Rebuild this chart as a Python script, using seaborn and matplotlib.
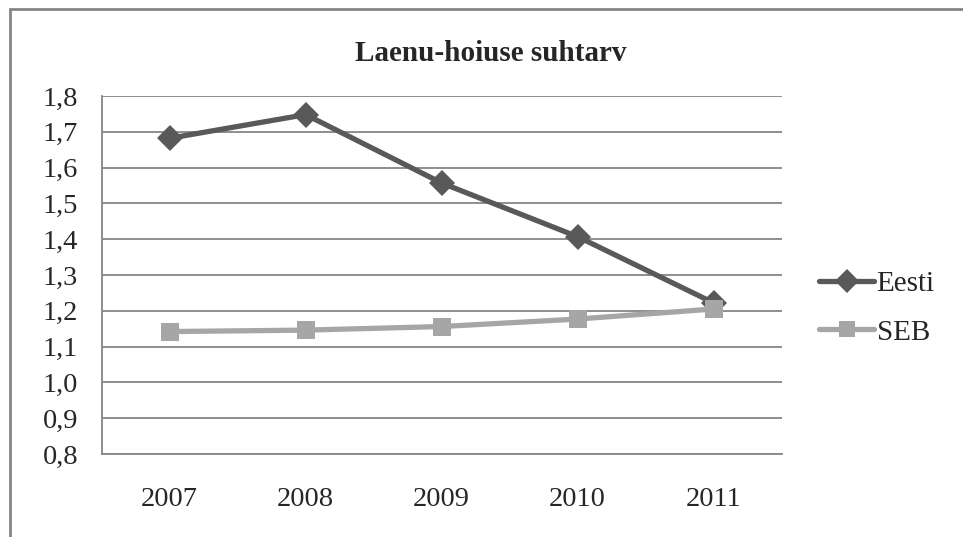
import matplotlib
matplotlib.use("Agg")
import matplotlib.pyplot as plt
import seaborn as sns
import pandas as pd
from matplotlib.lines import Line2D
from matplotlib.ticker import FuncFormatter

years = ["2007", "2008", "2009", "2010", "2011"]
eesti = [1.682, 1.748, 1.557, 1.407, 1.222]
seb = [1.142, 1.146, 1.156, 1.177, 1.205]
series_names = ["Eesti", "SEB"]
title = "Laenu-hoiuse suhtarv"
y_ticks = [0.8, 0.9, 1.0, 1.1, 1.2, 1.3, 1.4, 1.5, 1.6, 1.7, 1.8]

colors = {"Eesti": "#595959", "SEB": "#a6a6a6"}
markers = {"Eesti": "D", "SEB": "s"}

df = pd.DataFrame({
    "year": years * 2,
    "value": eesti + seb,
    "series": ["Eesti"] * len(years) + ["SEB"] * len(years),
})

sns.set_style("white")
plt.rcParams["font.family"] = ["Liberation Serif", "DejaVu Serif"]

fig = plt.figure(figsize=(9.63, 5.37), dpi=100)
ax = fig.add_axes([0.1056, 0.1546, 0.7061, 0.6666])

sns.lineplot(data=df, x="year", y="value", hue="series", style="series",
             palette=colors, markers=markers, dashes=False, markersize=13,
             markeredgewidth=0, linewidth=3.8, legend=False, ax=ax, sort=False)

ax.set_xlim(-0.5, len(years) - 0.5)
ax.set_ylim(0.8, 1.8)
ax.set_yticks(y_ticks)
ax.yaxis.set_major_formatter(FuncFormatter(lambda v, p: f"{v:.1f}".replace(".", ",")))
ax.grid(axis="y", color="#868686", linewidth=1.3)
ax.set_axisbelow(True)
for s in ["top", "right"]:
    ax.spines[s].set_visible(False)
for s in ["left", "bottom"]:
    ax.spines[s].set_color("#868686")
    ax.spines[s].set_linewidth(1.3)
ax.tick_params(axis="y", length=4, color="#868686", labelsize=20.5, pad=13)
ax.tick_params(axis="x", length=0, labelsize=20.5, pad=24)
ax.set_xlabel("")
ax.set_ylabel("")

fig.text(491 / 963, 1 - 53 / 537, title, fontsize=21, fontweight="bold",
         ha="center", va="center")

handles = [Line2D([], [], color=colors[n], marker=markers[n], markersize=12,
                  markeredgewidth=0, linewidth=3.8) for n in series_names]
fig.legend(handles, series_names, loc="center left", bbox_to_anchor=(0.823, 0.426),
           frameon=False, fontsize=21, handlelength=1.9, handletextpad=0.08,
           labelspacing=0.75)

# outer chart frame (cropped on right and bottom like the source)
fig.add_artist(Line2D([10 / 963, 1.0], [1 - 9 / 537, 1 - 9 / 537],
                      transform=fig.transFigure, color="#868686", linewidth=2))
fig.add_artist(Line2D([10 / 963, 10 / 963], [1 - 9 / 537, 0.0],
                      transform=fig.transFigure, color="#868686", linewidth=2))

fig.savefig("out.png", dpi=100)
